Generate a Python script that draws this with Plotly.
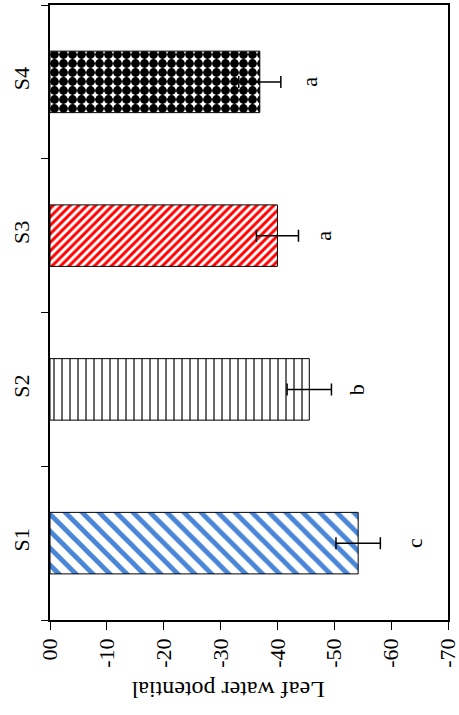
import plotly.graph_objects as go

categories = ["S1", "S2", "S3", "S4"]
values = [-54.2, -45.6, -40.0, -36.9]
errors = [3.9, 3.9, 3.7, 3.7]
letters = ["c", "b", "a", "a"]
letter_pos = [-64.0, -53.8, -48.2, -45.7]
tick_vals = [0, -10, -20, -30, -40, -50, -60, -70]
tick_text = ["00", "-10", "-20", "-30", "-40", "-50", "-60", "-70"]

font_family = "Liberation Serif"

patterns = [
    dict(shape="\\", fgcolor="#4a86d8", bgcolor="white", size=12, solidity=0.4, fgopacity=1),
    dict(shape="|", fgcolor="#444444", bgcolor="white", size=8, solidity=0.2, fgopacity=1),
    dict(shape="/", fgcolor="#ff0000", bgcolor="white", size=6, solidity=0.5, fgopacity=1),
    dict(shape=".", fgcolor="black", bgcolor="white", size=9, solidity=0.75, fgopacity=1),
]

fig = go.Figure()
for cat, v, e, p in zip(categories, values, errors, patterns):
    fig.add_trace(go.Bar(
        y=[cat], x=[v], orientation="h", width=0.4, opacity=1,
        marker=dict(color="white", opacity=1, line=dict(color="black", width=1), pattern=p),
        error_x=dict(type="data", array=[e], symmetric=True, color="black",
                     thickness=1.5, width=6),
        showlegend=False,
    ))

for cat, lt, xp in zip(categories, letters, letter_pos):
    fig.add_annotation(x=xp, y=cat, xref="x", yref="y", text=lt, showarrow=False,
                       textangle=-90, font=dict(family=font_family, size=22, color="black"))

fig.add_annotation(x=0.447, y=-0.114, xref="paper", yref="paper", text="Leaf water potential",
                   showarrow=False, textangle=180, yanchor="middle",
                   font=dict(family=font_family, size=24, color="black"))

fig.update_layout(
    width=459, height=715,
    margin=dict(l=50, r=11, t=5, b=95, autoexpand=False),
    paper_bgcolor="white", plot_bgcolor="white",
    barmode="overlay",
    font=dict(family=font_family, size=22, color="black"),
)
fig.update_xaxes(range=[0, -70.0001], tickvals=tick_vals, ticktext=tick_text, tickangle=-90,
                 automargin=False, ticklabeloverflow="allow",
                 showline=True, linecolor="black", linewidth=1.5, mirror=True,
                 ticks="outside", ticklen=8, tickcolor="black", showgrid=False, zeroline=False,
                 tickfont=dict(family=font_family, size=22, color="black"))
fig.update_yaxes(categoryorder="array", categoryarray=categories, tickangle=-90,
                 automargin=False,
                 showline=True, linecolor="black", linewidth=1.5, mirror=True,
                 ticks="outside", ticklen=7, tickcolor="black", tickson="boundaries",
                 ticklabelstandoff=10,
                 showgrid=False, zeroline=False,
                 tickfont=dict(family=font_family, size=22, color="black"))

fig.write_html("out.html", config={"displayModeBar": False},
               post_script="document.body.style.margin='0';document.body.style.overflow='hidden';")
